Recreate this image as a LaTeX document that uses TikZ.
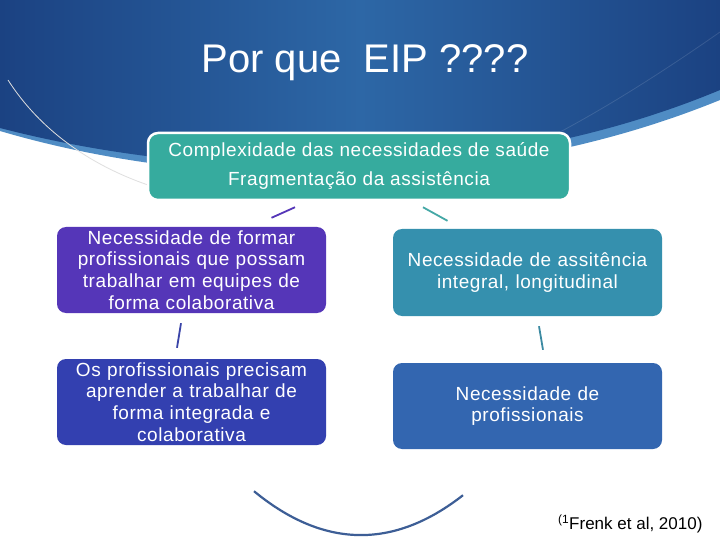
\documentclass[tikz,border=0pt]{standalone}
\usepackage{fontspec}
\setmainfont{Liberation Sans}
\newfontfamily\boxfont[LetterSpace=3]{Liberation Sans}
\usetikzlibrary{calc}
\definecolor{hdrdark}{HTML}{1B4282}
\definecolor{hdrmid}{HTML}{2D67A6}
\definecolor{hdrlight}{HTML}{4F8CC4}
\definecolor{teal}{HTML}{36AB9E}
\definecolor{boxA}{HTML}{5536B8}
\definecolor{boxB}{HTML}{3590AE}
\definecolor{boxC}{HTML}{3340B0}
\definecolor{boxD}{HTML}{3366B0}
\definecolor{lnA}{HTML}{5536B8}
\definecolor{lnB}{HTML}{45A8A6}
\definecolor{lnC}{HTML}{3A44A8}
\definecolor{lnD}{HTML}{3C8AA2}
\definecolor{arcc}{HTML}{3D5E96}
\begin{document}
\begin{tikzpicture}[x=1pt,y=-1pt,
  card/.style={rounded corners=9pt, text=white, align=center, inner sep=0pt,
    minimum width=269pt, minimum height=86pt, text width=266pt,
    font=\boxfont\fontsize{19}{21.6}\selectfont},
  seg/.style={line width=1.8pt}]
\useasboundingbox (0,0) rectangle (720,540);
\fill[white] (0,0) rectangle (720,540);
% header band
\fill[hdrlight] (0,0) -- (720,0) -- (720,100) .. controls (480,198) and (200,190) .. (0,131) -- cycle;
\shade[left color=hdrdark, right color=hdrdark, middle color=hdrmid]
  (0,0) -- (720,0) -- (720,90) .. controls (480,190) and (200,180) .. (0,128) -- cycle;
\draw[white, opacity=0.12, line width=0.8pt] (560,132) .. controls (620,100) and (680,60) .. (720,32);
\draw[gray!25, line width=0.8pt] (8,80) .. controls (40,130) and (90,165) .. (148,185);
\node[text=white, font=\fontsize{40}{44}\selectfont] (title) at (365,63) {Por que\ \ EIP ????};
% boxes
\node[draw=white, line width=2.5pt, fill=teal, rounded corners=10pt, text=white, align=center,
  minimum width=422pt, minimum height=67pt, inner sep=0pt,
  font=\boxfont\fontsize{19}{29}\selectfont] (top) at (359,166.5)
  {Complexidade das necessidades de saúde\\Fragmentação da assistência};
\node[card, fill=boxA] (A) at (191.5,270) {Necessidade de formar\\profissionais que possam\\trabalhar em equipes de\\forma colaborativa};
\node[card, fill=boxB, minimum height=87pt] (B) at (527.5,272.5) {Necessidade de assitência\\integral, longitudinal};
\node[card, fill=boxC] (C) at (191.5,402) {Os profissionais precisam\\aprender a trabalhar de\\forma integrada e\\colaborativa};
\node[card, fill=boxD] (D) at (527.5,406) {Necessidade de\\profissionais};
% connectors (cycle segments)
\draw[seg, lnA] ($(top.south)+(-64,6)$) -- ($(A.north)+(80,-9)$);
\draw[seg, lnB] ($(top.south)+(64,6)$) -- ($(B.north)+(-80,-8)$);
\draw[seg, lnC] ($(A.south)+(-10.5,10)$) -- ($(C.north)+(-14.5,-11)$);
\draw[seg, lnD] ($(B.south)+(11.5,10)$) -- ($(D.north)+(15.5,-13)$);
\draw[line width=2.2pt, arcc] ($(C.south)+(62.5,46)$) .. controls (323,548) and (393,550) .. ($(D.south)+(-64.5,46)$);
\node[anchor=east, font=\fontsize{17}{20}\selectfont] (ref) at (706,524) {\textsuperscript{(1}Frenk et al, 2010)};
\end{tikzpicture}
\end{document}
